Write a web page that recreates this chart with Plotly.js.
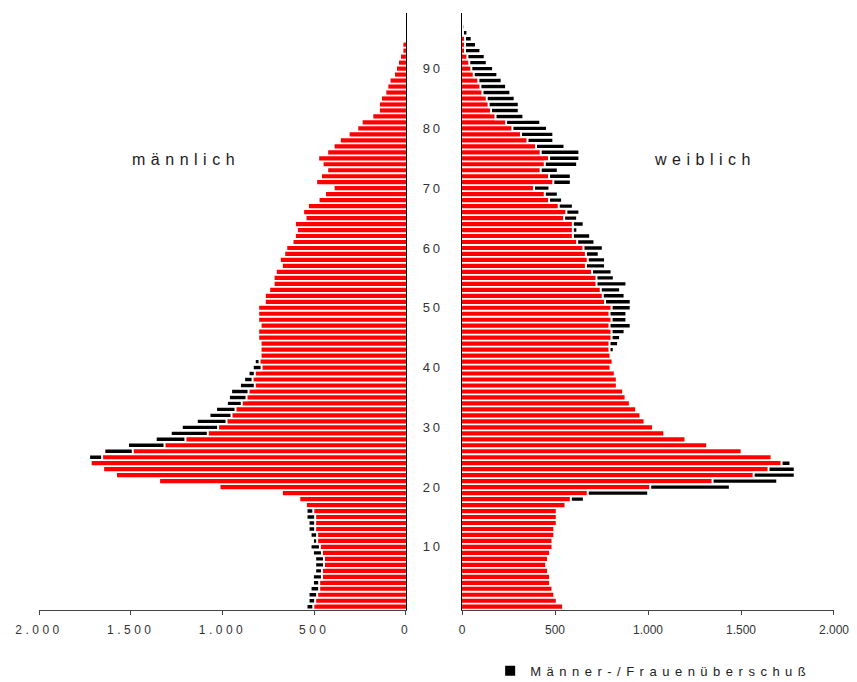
<!DOCTYPE html>
<html>
<head>
<meta charset="utf-8">
<script src="https://cdn.plot.ly/plotly-3.0.1.min.js"></script>
<style>
  html, body { margin: 0; padding: 0; background: #fff; }
  #chart { width: 857px; height: 682px; }
  .xtick text { letter-spacing: 3.5px; }
  .y2tick text { letter-spacing: 3px; }
  .annotation-text { letter-spacing: 5.5px; }
  .legendtext { letter-spacing: 5.5px; }
</style>
</head>
<body>
<div id="chart"></div>
<script>
// Altersjahre (Kategorien)
const ages = [0,1,2,3,4,5,6,7,8,9,10,11,12,13,14,15,16,17,18,19,20,21,22,23,24,25,26,27,28,29,
  30,31,32,33,34,35,36,37,38,39,40,41,42,43,44,45,46,47,48,49,50,51,52,53,54,55,56,57,58,59,
  60,61,62,63,64,65,66,67,68,69,70,71,72,73,74,75,76,77,78,79,80,81,82,83,84,85,86,87,88,89,
  90,91,92,93,94,95,96,97];

// männlich: rote Balken
const maleRed = [505,495,484,473,473,458,458,447,447,458,469,484,484,495,495,495,505,540,576,671,
  1011,1340,1575,1645,1713,1656,1489,1316,1202,1080,1024,978,951,929,895,869,858,824,836,824,
  787,798,787,787,787,800,800,787,800,800,800,764,764,740,716,716,704,671,682,658,
  647,613,600,589,600,542,555,529,471,436,389,484,458,424,449,473,424,389,355,307,
  260,236,178,142,142,131,107,96,84,60,49,38,27,14,14,0,0,0];

// Männerüberschuss (schwarz)
const maleExcess = [37,36,47,47,34,49,37,48,48,49,51,23,36,36,36,47,37,null,null,null,
  null,null,null,null,null,71,155,199,162,202,198,162,120,106,81,96,95,81,46,34,
  48,26,null,null,null,null,null,null,null,null,null,null,null,null,null,null,null,null,null,null,
  null,null,null,null,null,null,null,null,null,null,null,null,null,null,null,null,null,null,null,null,
  null,null,null,null,null,null,null,null,null,null,null,null,null,null,null,null,null,null];

// weiblich: rote Balken
const femaleRed = [538,504,491,481,468,468,457,447,457,468,481,481,491,491,504,504,504,551,585,676,
  1012,1347,1568,1648,1718,1659,1498,1313,1196,1082,1022,976,954,931,897,874,861,827,827,816,
  793,804,793,793,793,804,804,793,804,793,804,769,757,746,723,723,699,666,676,666,
  653,619,596,596,596,549,561,520,468,445,387,491,468,423,445,468,423,398,352,317,
  271,237,180,156,143,133,110,99,88,63,50,39,29,16,16,16,5,0];

// Frauenüberschuss (schwarz)
const femaleExcess = [null,null,null,null,null,null,null,null,null,null,null,null,null,null,null,null,null,null,70,325,
  428,348,221,141,48,null,null,null,null,null,null,null,null,null,null,null,null,null,null,null,
  null,null,null,23,46,46,70,114,80,91,103,138,117,104,161,93,105,103,93,69,
  104,93,93,24,58,70,70,76,70,70,83,94,117,92,174,163,208,153,139,174,
  186,184,150,149,162,150,150,138,125,127,117,94,93,83,59,36,24,12];

// Achsenbeschriftung
const xTickVals = [0, 500, 1000, 1500, 2000];
const yTickVals = [10, 20, 30, 40, 50, 60, 70, 80, 90];
const legendLabel = 'Männer-/Frauenüberschuß';

const RED = '#ff0000';
const BLACK = '#000000';
const FONT = 'Liberation Sans, Arial, sans-serif';

const traces = [
  { type: 'bar', orientation: 'h', y: ages, x: maleRed, xaxis: 'x', yaxis: 'y',
    marker: { color: RED, line: { width: 0 } }, width: 0.7, showlegend: false },
  { type: 'bar', orientation: 'h', y: ages, x: maleExcess, base: maleRed, xaxis: 'x', yaxis: 'y',
    marker: { color: BLACK, line: { color: '#ffffff', width: 2 } }, width: 0.9,
    name: legendLabel, showlegend: true },
  { type: 'bar', orientation: 'h', y: ages, x: femaleRed, xaxis: 'x2', yaxis: 'y2',
    marker: { color: RED, line: { width: 0 } }, width: 0.7, showlegend: false },
  { type: 'bar', orientation: 'h', y: ages, x: femaleExcess, base: femaleRed, xaxis: 'x2', yaxis: 'y2',
    marker: { color: BLACK, line: { color: '#ffffff', width: 2 } }, width: 0.9,
    name: legendLabel, showlegend: false }
];

const xCommon = {
  showline: true, linecolor: '#444', linewidth: 1,
  ticks: 'outside', ticklen: 4, tickcolor: '#444', tickwidth: 1,
  tickvals: xTickVals, tickformat: ',d',
  showgrid: false, zeroline: false,
  tickfont: { family: FONT, size: 12, color: '#333' },
  ticklabelstandoff: 5, fixedrange: true
};
const yRange = [-0.55, 99.3];

const layout = {
  width: 857, height: 682,
  margin: { l: 39, r: 23, t: 13, b: 72, autoexpand: false },
  paper_bgcolor: '#ffffff', plot_bgcolor: '#ffffff',
  separators: ',.',
  barmode: 'overlay',
  font: { family: FONT, color: '#222' },
  xaxis: Object.assign({}, xCommon, { domain: [0, 0.4616], range: [2000, 0], anchor: 'y' }),
  xaxis2: Object.assign({}, xCommon, { domain: [0.5321, 1], range: [0, 2000], anchor: 'y2' }),
  yaxis: { domain: [0, 1], range: yRange, anchor: 'x', side: 'right',
    showline: true, linecolor: '#000', linewidth: 1.3, ticks: '', showticklabels: false,
    showgrid: false, zeroline: false, fixedrange: true },
  yaxis2: { domain: [0, 1], range: yRange, anchor: 'x2', side: 'left',
    showline: true, linecolor: '#000', linewidth: 1.3, ticks: '',
    tickvals: yTickVals, tickfont: { family: FONT, size: 13, color: '#333' },
    ticklabelstandoff: 15,
    showgrid: false, zeroline: false, fixedrange: true },
  showlegend: true,
  legend: { orientation: 'h', x: 0.5675, y: -0.102, xanchor: 'left', yanchor: 'middle',
    font: { family: FONT, size: 13, color: '#222' }, bgcolor: 'rgba(0,0,0,0)', borderwidth: 0 },
  annotations: [
    { text: 'männlich', xref: 'paper', yref: 'paper', x: 0.185, y: 0.7538,
      showarrow: false, xanchor: 'center', yanchor: 'middle',
      font: { family: FONT, size: 16, color: '#1a1a1a' } },
    { text: 'weiblich', xref: 'paper', yref: 'paper', x: 0.8377, y: 0.7538,
      showarrow: false, xanchor: 'center', yanchor: 'middle',
      font: { family: FONT, size: 16, color: '#1a1a1a' } }
  ]
};

Plotly.newPlot('chart', traces, layout, { staticPlot: true, displayModeBar: false });
</script>
</body>
</html>
